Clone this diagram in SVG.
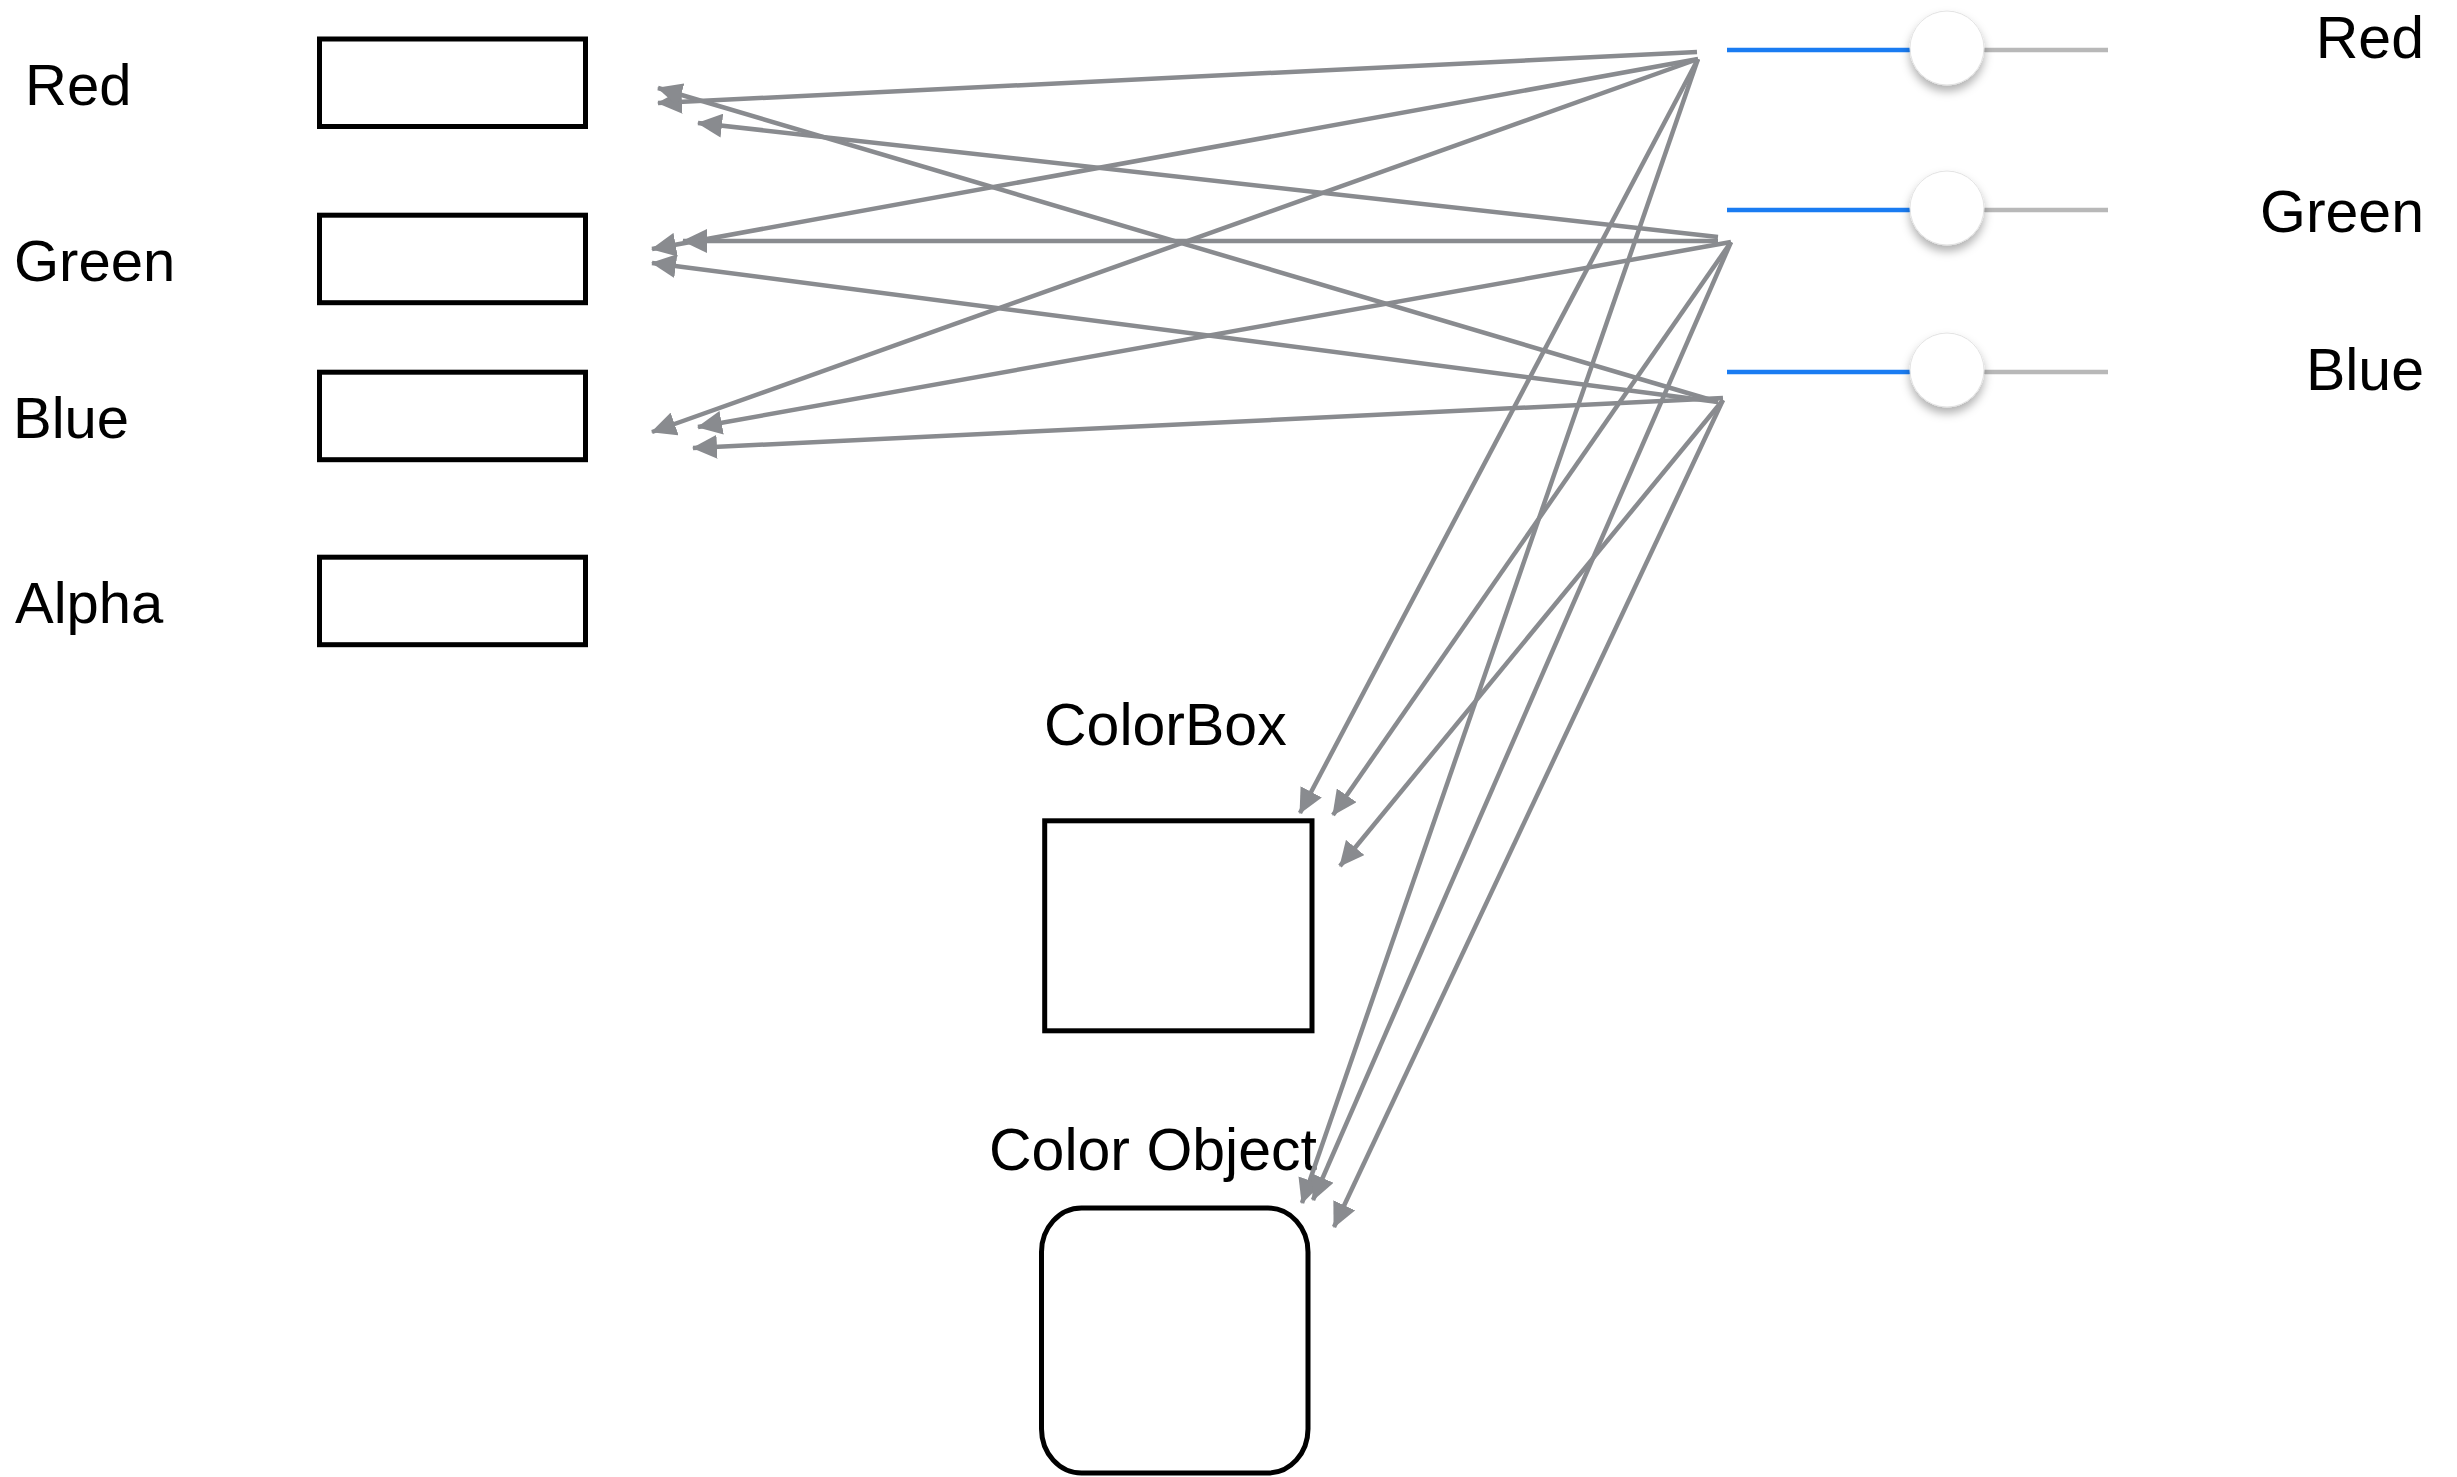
<svg xmlns="http://www.w3.org/2000/svg" width="2457" height="1477" viewBox="0 0 2457 1477">
  <style>
    .label { font-family: "Liberation Sans", Arial, sans-serif; font-size: 58px; fill: #000; }
    .big { font-size: 59px; }
    .field { fill: #fff; stroke: #000; stroke-width: 5; }
    .conn { fill: none; stroke: #898b8f; stroke-width: 4.5; marker-end: url(#arrow); }
    .track-on { stroke: #1a7cf2; stroke-width: 4.5; }
    .track-off { stroke: #b8b8b8; stroke-width: 4.5; }
    .knob { fill: #fff; stroke: #e3e3e3; stroke-width: 1; filter: url(#knobShadow); }
  </style>
  <defs>
    <marker id="arrow" markerUnits="userSpaceOnUse" markerWidth="25" markerHeight="24" viewBox="0 0 25 24" refX="24" refY="12" orient="auto">
      <path d="M0,0 L25,12 L0,24 z" fill="#898b8f"/>
    </marker>
    <filter id="knobShadow" x="-50%" y="-50%" width="200%" height="200%">
      <feDropShadow dx="0" dy="6" stdDeviation="5" flood-color="#000" flood-opacity="0.3"/>
    </filter>
  </defs>

  <rect width="2457" height="1477" fill="#fff"/>

  <!-- value fields on the left -->
  <g id="field-red">
    <text class="label" x="25" y="105">Red</text>
    <rect class="field" x="319.5" y="39" width="266" height="87.5"/>
  </g>
  <g id="field-green">
    <text class="label" x="14" y="281">Green</text>
    <rect class="field" x="319.5" y="215.2" width="266" height="87.5"/>
  </g>
  <g id="field-blue">
    <text class="label" x="13" y="437.5">Blue</text>
    <rect class="field" x="319.5" y="372.2" width="266" height="87.5"/>
  </g>
  <g id="field-alpha">
    <text class="label" x="15" y="623">Alpha</text>
    <rect class="field" x="319.5" y="557.2" width="266" height="87.5"/>
  </g>

  <!-- colour preview and model -->
  <g id="colorbox">
    <text class="label big" x="1044" y="745">ColorBox</text>
    <rect class="field" x="1044.7" y="820.8" width="267.3" height="210"/>
  </g>
  <g id="color-object">
    <text class="label big" x="989" y="1170">Color Object</text>
    <rect class="field" x="1041.5" y="1208" width="266.5" height="265" rx="40" ry="44"/>
  </g>

  <!-- sliders on the right -->
  <g id="slider-red">
    <line class="track-on" x1="1727" y1="50" x2="1912" y2="50"/>
    <line class="track-off" x1="1982" y1="50" x2="2108" y2="50"/>
    <circle class="knob" cx="1947" cy="48" r="37"/>
    <text class="label big" x="2424" y="58" text-anchor="end">Red</text>
  </g>
  <g id="slider-green">
    <line class="track-on" x1="1727" y1="210" x2="1912" y2="210"/>
    <line class="track-off" x1="1982" y1="210" x2="2108" y2="210"/>
    <circle class="knob" cx="1947" cy="208" r="37"/>
    <text class="label big" x="2424" y="232" text-anchor="end">Green</text>
  </g>
  <g id="slider-blue">
    <line class="track-on" x1="1727" y1="372" x2="1912" y2="372"/>
    <line class="track-off" x1="1982" y1="372" x2="2108" y2="372"/>
    <circle class="knob" cx="1947" cy="370" r="37"/>
    <text class="label big" x="2424" y="390" text-anchor="end">Blue</text>
  </g>

  <!-- bindings from each slider to the fields, the box and the model -->
  <g id="connectors">
    <path class="conn" d="M1697,52 L658,103"/>
    <path class="conn" d="M1698,59 L652,249"/>
    <path class="conn" d="M1698,59 L652,432"/>
    <path class="conn" d="M1698,59 L1300,813"/>
    <path class="conn" d="M1698,59 L1302,1203"/>

    <path class="conn" d="M1718,237 L698,123"/>
    <path class="conn" d="M1718,241 L683,241"/>
    <path class="conn" d="M1731,242 L698,427"/>
    <path class="conn" d="M1731,242 L1333,815"/>
    <path class="conn" d="M1731,242 L1313,1200"/>

    <path class="conn" d="M1718,402 L658,88"/>
    <path class="conn" d="M1718,402 L652,263"/>
    <path class="conn" d="M1723,398 L693,448"/>
    <path class="conn" d="M1723,400 L1340,866"/>
    <path class="conn" d="M1723,400 L1334,1227"/>
  </g>
</svg>
